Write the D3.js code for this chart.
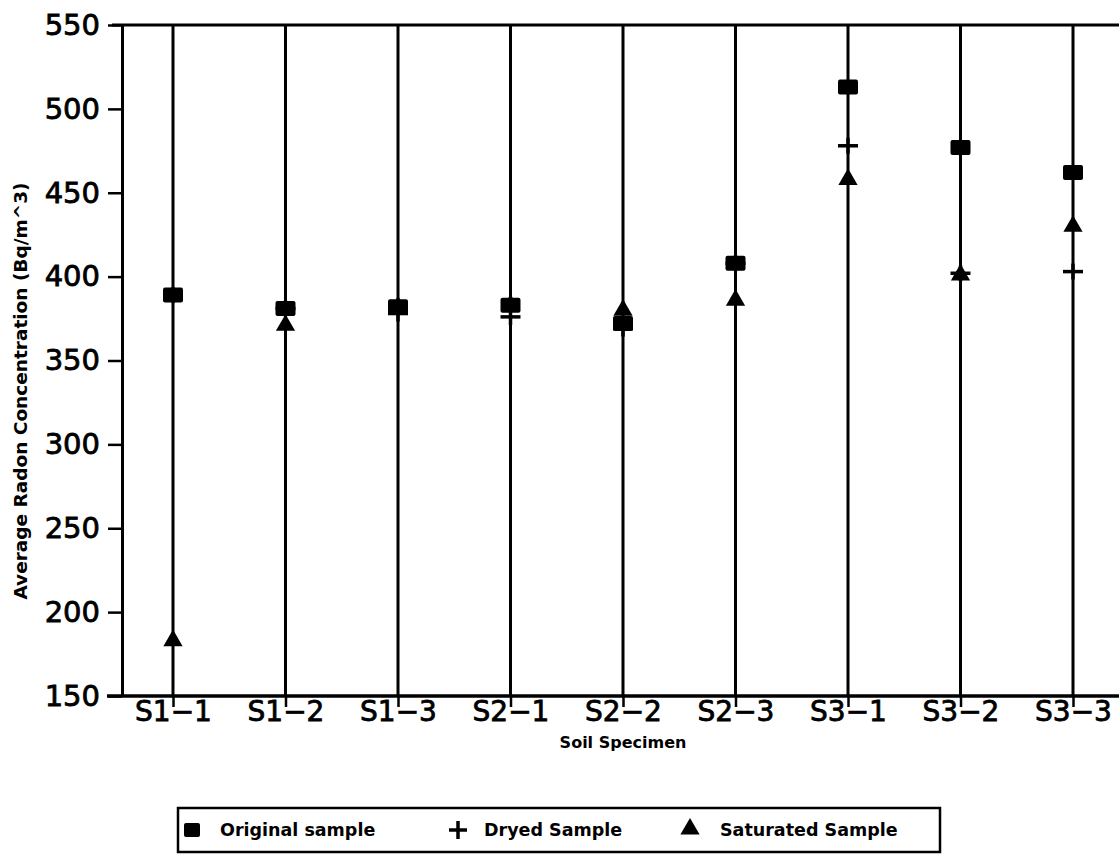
<!DOCTYPE html>
<html>
<head>
<meta charset="utf-8">
<script src="https://cdn.jsdelivr.net/npm/d3@7"></script>
<style>
  body { margin: 0; background: #fff; }
  svg text { font-family: "DejaVu Sans", sans-serif; fill: #000; }
</style>
</head>
<body>
<div id="chart"></div>
<script>
const categories = ["S1-1", "S1-2", "S1-3", "S2-1", "S2-2", "S2-3", "S3-1", "S3-2", "S3-3"];
const original = [389, 381, 382, 383, 372, 408, 513, 477, 462];
const dryed = [389, 381, 378, 376, 369, 408, 478, 402, 403];
const saturated = [183, 371, 382, 383, 380, 386, 458, 401, 430];
const yTicks = [150, 200, 250, 300, 350, 400, 450, 500, 550];

const width = 1119;
const height = 855;

const svg = d3.select("#chart").append("svg")
    .attr("width", width)
    .attr("height", height);

const x = d3.scalePoint().domain(categories).range([173, 1073]);
const y = d3.scaleLinear().domain([150, 550]).range([696, 25]);

// y axis
const yAxis = svg.append("g")
    .attr("transform", "translate(122,0)")
    .call(d3.axisLeft(y).tickValues(yTicks).tickSize(14).tickSizeOuter(0).tickPadding(8));
yAxis.select(".domain").attr("stroke-width", 3);
yAxis.selectAll(".tick line").attr("stroke-width", 2.5);
yAxis.selectAll(".tick text").style("font-size", "29px")
    .attr("stroke", "#000").attr("stroke-width", 0.8);

// x axis ticks
const xAxis = svg.append("g")
    .attr("transform", "translate(0,696)")
    .call(d3.axisBottom(x).tickSize(11).tickPadding(-6));
xAxis.select(".domain").remove();
xAxis.selectAll(".tick line").attr("stroke-width", 2.5);
xAxis.selectAll(".tick text").style("font-size", "28px")
    .attr("stroke", "#000").attr("stroke-width", 0.8)
    .text(d => d.replace("-", "\u2212"));

// frame lines top and bottom
svg.append("line").attr("x1", 112).attr("x2", width).attr("y1", y(550)).attr("y2", y(550))
    .attr("stroke", "#000").attr("stroke-width", 3);
svg.append("line").attr("x1", 107).attr("x2", width).attr("y1", y(150)).attr("y2", y(150))
    .attr("stroke", "#000").attr("stroke-width", 3.5);

// vertical drop lines
svg.append("g").selectAll("line")
    .data(categories)
    .join("line")
    .attr("x1", d => x(d)).attr("x2", d => x(d))
    .attr("y1", y(550)).attr("y2", y(150))
    .attr("stroke", "#000").attr("stroke-width", 3);

const tri = d3.symbol().type(d3.symbolTriangle).size(160);

// saturated - triangles
svg.append("g").selectAll("path")
    .data(saturated)
    .join("path")
    .attr("d", tri)
    .attr("transform", (d, i) => `translate(${x(categories[i])},${y(d)})`)
    .attr("fill", "#000");

// dryed - plus
const plus = svg.append("g").selectAll("g")
    .data(dryed)
    .join("g")
    .attr("transform", (d, i) => `translate(${x(categories[i])},${y(d)})`);
plus.append("line").attr("x1", -10).attr("x2", 10).attr("stroke", "#000").attr("stroke-width", 3.5);
plus.append("line").attr("y1", -8).attr("y2", 8).attr("stroke", "#000").attr("stroke-width", 3.5);

// original - squares
svg.append("g").selectAll("rect")
    .data(original)
    .join("rect")
    .attr("x", (d, i) => x(categories[i]) - 10)
    .attr("y", d => y(d) - 7.5)
    .attr("width", 20).attr("height", 15)
    .attr("rx", 2)
    .attr("fill", "#000");

// axis titles
svg.append("text")
    .attr("x", x("S2-2"))
    .attr("y", 748)
    .attr("text-anchor", "middle")
    .style("font-size", "16px").style("font-weight", "bold")
    .text("Soil Specimen");

svg.append("text")
    .attr("transform", "translate(27,391) rotate(-90)")
    .attr("text-anchor", "middle")
    .style("font-size", "18.5px").style("font-weight", "bold")
    .text("Average Radon Concentration (Bq/m^3)");

// legend
const legend = svg.append("g");
legend.append("rect")
    .attr("x", 178).attr("y", 808).attr("width", 762).attr("height", 44)
    .attr("fill", "none").attr("stroke", "#000").attr("stroke-width", 2.5);

const ly = 830;
const legendFont = "17.5px";
legend.append("rect").attr("x", 184).attr("y", ly - 7).attr("width", 16).attr("height", 14).attr("rx", 2).attr("fill", "#000");
legend.append("text").attr("x", 220).attr("y", ly + 6).style("font-size", legendFont).style("font-weight", "bold").text("Original sample");

legend.append("line").attr("x1", 449).attr("x2", 467).attr("y1", ly).attr("y2", ly).attr("stroke", "#000").attr("stroke-width", 3.5);
legend.append("line").attr("x1", 458).attr("x2", 458).attr("y1", ly - 9).attr("y2", ly + 9).attr("stroke", "#000").attr("stroke-width", 3.5);
legend.append("text").attr("x", 484).attr("y", ly + 6).style("font-size", legendFont).style("font-weight", "bold").text("Dryed Sample");

legend.append("path").attr("d", tri).attr("transform", `translate(690,${ly - 1})`).attr("fill", "#000");
legend.append("text").attr("x", 720).attr("y", ly + 6).style("font-size", legendFont).style("font-weight", "bold").text("Saturated Sample");
</script>
</body>
</html>
